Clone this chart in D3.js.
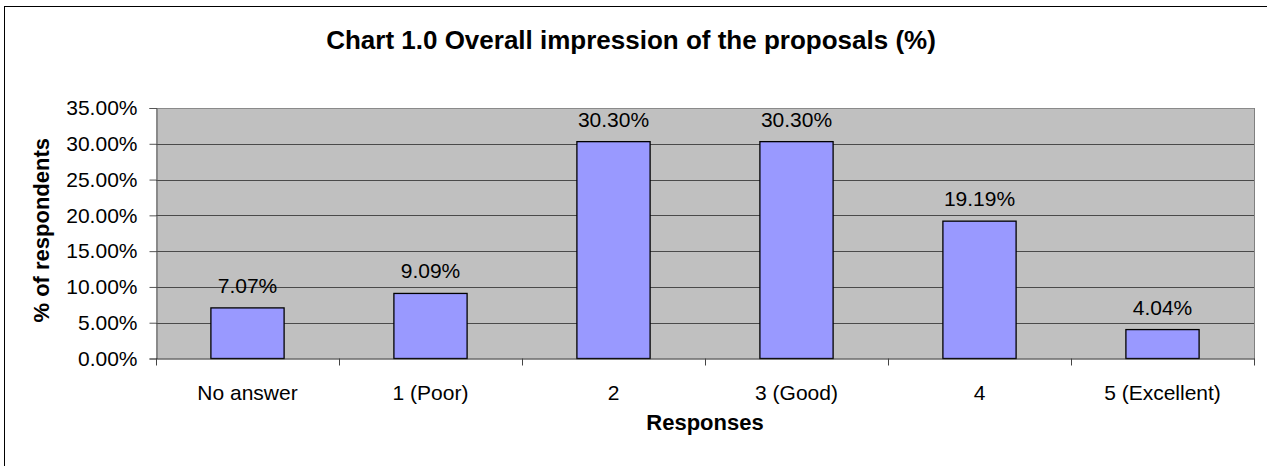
<!DOCTYPE html>
<html><head><meta charset="utf-8">
<script src="https://cdn.jsdelivr.net/npm/d3@7"></script>
<style>body{margin:0;background:#fff}svg{display:block}text{font-family:"Liberation Sans",Arial,sans-serif;fill:#000}</style>
</head><body><svg id="c" width="1267" height="466"></svg>
<script>
const categories = ["No answer","1 (Poor)","2","3 (Good)","4","5 (Excellent)"];
const values = [7.07, 9.09, 30.30, 30.30, 19.19, 4.04];
const yTicks = [0,5,10,15,20,25,30,35];
const title = "Chart 1.0 Overall impression of the proposals (%)";
const yTitle = "% of respondents";
const xTitle = "Responses";

const svg = d3.select("#c");
const L = 156, R = 1254, T = 108, B = 358.5;
svg.append("rect").attr("x",4.5).attr("y",6.5).attr("width",1300).attr("height",500)
  .attr("fill","#fff").attr("stroke","#000").attr("stroke-width",1);

const x = d3.scaleBand().domain(categories).range([L,R]).paddingInner(0.6).paddingOuter(0.3);
const xb = d3.scaleBand().domain(categories).range([L,R]);
const y = d3.scaleLinear().domain([0,35]).range([B,T]);

svg.append("rect").attr("x",L).attr("y",T).attr("width",R-L).attr("height",B-T).attr("fill","#C0C0C0");
svg.append("g").selectAll("line").data(yTicks.filter(d=>d>0)).join("line")
  .attr("x1",L).attr("x2",R).attr("y1",d=>Math.round(y(d))+0.5).attr("y2",d=>Math.round(y(d))+0.5)
  .attr("stroke",d=>d===35?"#8a8a8a":"#4a4a4a").attr("stroke-width",1);
svg.append("line").attr("x1",R+0.5).attr("x2",R+0.5).attr("y1",T).attr("y2",B).attr("stroke","#808080");

svg.append("g").selectAll("rect").data(values).join("rect")
  .attr("x",(d,i)=>x(categories[i])).attr("width",x.bandwidth())
  .attr("y",d=>y(d)).attr("height",d=>B-y(d))
  .attr("fill","#9999FF").attr("stroke","#000").attr("stroke-width",1.3);
svg.append("g").selectAll("text").data(values).join("text")
  .attr("x",(d,i)=>x(categories[i])+x.bandwidth()/2).attr("y",d=>y(d)-15)
  .attr("text-anchor","middle").attr("font-size",21).text(d=>d.toFixed(2)+"%");

const ya = d3.axisLeft(y).tickValues(yTicks).tickSize(7).tickPadding(12).tickFormat(d=>d.toFixed(2)+"%");
const gy = svg.append("g").attr("transform",`translate(${L+0.5},0)`).call(ya);
gy.select(".domain").attr("stroke","#555");
gy.selectAll(".tick line").attr("stroke","#555");
gy.selectAll(".tick text").attr("font-size",21).attr("font-family","Liberation Sans, Arial, sans-serif").attr("fill","#000");

const gx = svg.append("g").attr("transform",`translate(0,${B})`);
gx.append("line").attr("x1",L).attr("x2",R+1).attr("y1",0.5).attr("y2",0.5).attr("stroke","#222");
const bounds = categories.map(c=>xb(c)).concat([R]);
gx.selectAll("line.t").data(bounds).join("line").attr("class","t")
  .attr("x1",d=>Math.round(d)+0.5).attr("x2",d=>Math.round(d)+0.5).attr("y1",0).attr("y2",7).attr("stroke","#444");
gx.selectAll("text").data(categories).join("text")
  .attr("x",d=>xb(d)+xb.bandwidth()/2).attr("y",41).attr("text-anchor","middle").attr("font-size",21).text(d=>d);

svg.append("text").attr("x",631).attr("y",49).attr("text-anchor","middle").attr("font-size",26).attr("font-weight","bold").text(title);
svg.append("text").attr("x",(L+R)/2).attr("y",430).attr("text-anchor","middle").attr("font-size",22).attr("font-weight","bold").text(xTitle);
svg.append("text").attr("transform",`translate(49,${(T+B)/2 - 3}) rotate(-90)`).attr("text-anchor","middle").attr("font-size",22).attr("font-weight","bold").text(yTitle);
</script></body></html>
